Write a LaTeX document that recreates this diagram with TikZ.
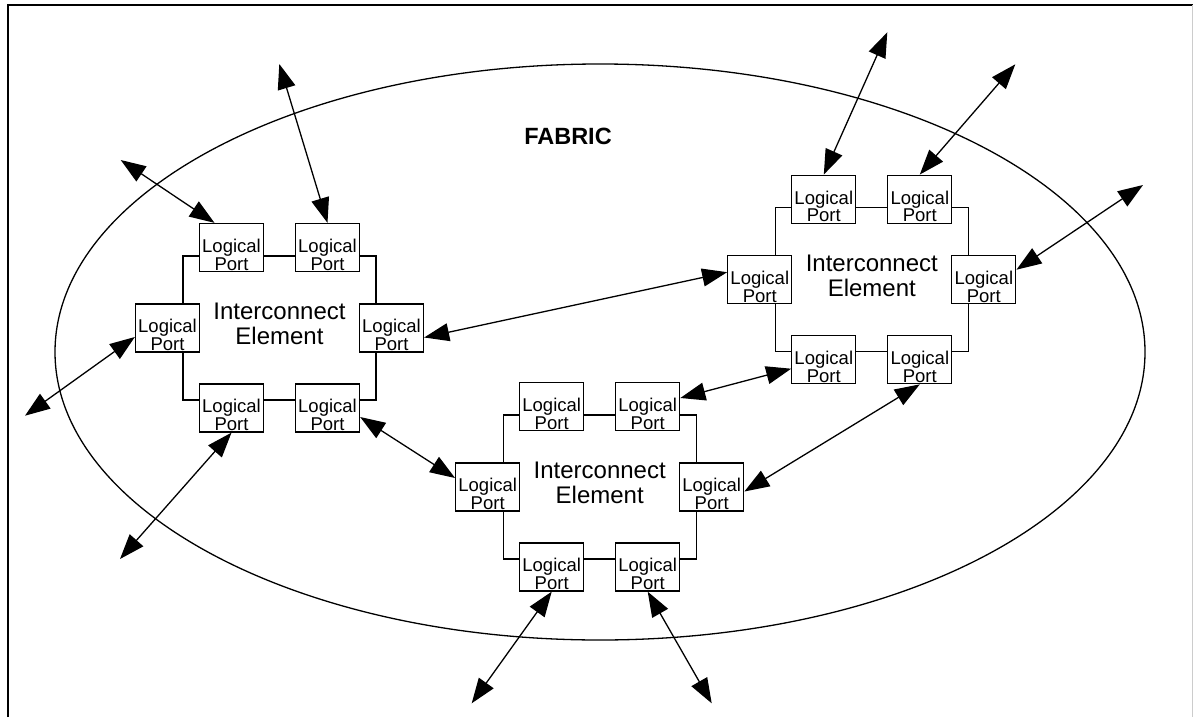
\documentclass[tikz,border=0pt]{standalone}
\usepackage{fontspec}
\setmainfont{Liberation Sans}
\usetikzlibrary{arrows.meta}

\begin{document}
\begin{tikzpicture}
[x=1pt,y=-1pt,line width=1.3pt]
\tikzset{port/.style={draw,fill=white,minimum width=64pt,minimum height=48pt,inner sep=0pt}}
\tikzset{porttxt/.style={inner sep=0pt,align=center,font=\fontsize{18.5}{17.7}\selectfont}}
\tikzset{elemtxt/.style={inner sep=0pt,align=center,font=\fontsize{24}{25}\selectfont}}
\tikzset{link/.style={{Triangle[length=25pt,width=18pt]}-{Triangle[length=25pt,width=18pt]}}}
\useasboundingbox (0,0) rectangle (1193,717);

% frame and fabric
\draw[line width=2.5pt] (8,717) -- (8,5) -- (1193,5);
\draw[gray!40,line width=1pt] (1192,5) -- (1192,717);
\draw (600,352) ellipse [x radius=545, y radius=288];
\node [font=\bfseries\fontsize{23.5}{28}\selectfont] (fabric) at (568,136) {FABRIC};

% interconnect elements with their logical ports
\foreach \e/\cx/\cy in {a/279.5/328,b/599.7/487,c/871.8/279.7}{
	\draw (\cx-96.5,\cy-72) rectangle (\cx+96.5,\cy+72);
	\node [elemtxt] (\e) at (\cx,\cy-4) {Interconnect\\Element};
	\foreach \p/\dx/\dy in {1/-48/-80.5,2/48/-80.5,3/-112/0,4/112/0,5/-48/80,6/48/80}{
		\node [port] (\e\p) at (\cx+\dx,\cy+\dy) {};
		\node [porttxt] (\e\p-txt) at ([yshift=-7.2pt]\e\p.center) {Logical\\Port};
	}
}

% free ends
\coordinate (o1) at (120.7,160);
\coordinate (o2) at (279.3,64);
\coordinate (o3) at (25,415.7);
\coordinate (o4) at (120,559);
\coordinate (o5) at (471.7,703.3);
\coordinate (o6) at (711.7,703.3);
\coordinate (o7) at (887.3,32.3);
\coordinate (o8) at (1015.3,64.3);
\coordinate (o9) at (1143,185);

\draw[link] (o1) -- ([xshift=-17pt]a1.north);
\draw[link] (o2) -- (a2.north);
\draw[link] (o3) -- ([yshift=-9pt]a3.west);
\draw[link] (o4) -- (a5.south);
\draw[link] ([yshift=-9pt]a6.east) -- ([yshift=9pt]b3.west);
\draw[link] ([yshift=-9.5pt]a4.east) -- ([yshift=7.5pt]c3.west);
\draw[link] ([yshift=8.5pt]b2.east) -- ([yshift=-9pt]c5.west);
\draw[link] ([yshift=-4.5pt]b4.east) -- (c6.south);
\draw[link] (o5) -- (b5.south);
\draw[link] (o6) -- (b6.south);
\draw[link] (o7) -- (c1.north);
\draw[link] (o8) -- (c2.north);
\draw[link] (o9) -- ([yshift=10pt]c4.east);

\end{tikzpicture}
\end{document}
